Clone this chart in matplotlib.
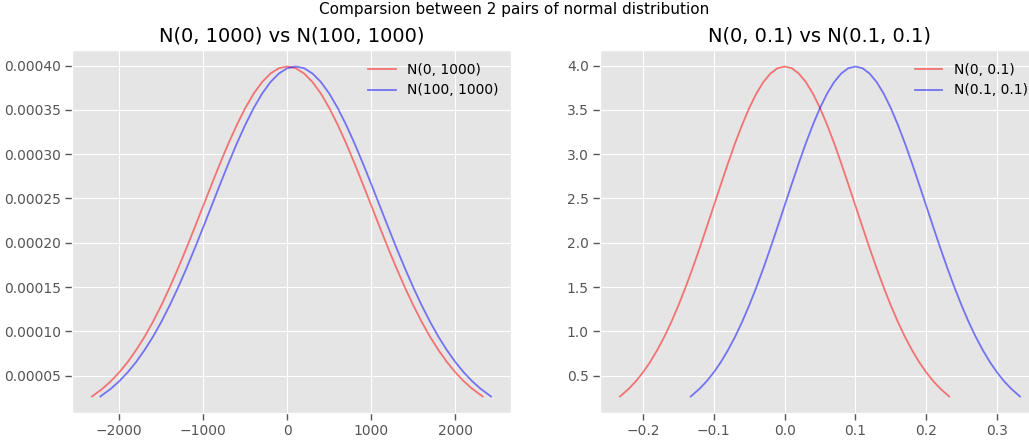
import matplotlib

matplotlib.use("Agg")
import matplotlib.pyplot as plt

x_n0_1000 = [-2326, -2200, -2100, -2000, -1900, -1800, -1700, -1600, -1500, -1400, -1300, -1200,
             -1100, -1000, -900, -800, -700, -600, -500, -400, -300, -200, -100, 0,
             100, 200, 300, 400, 500, 600, 700, 800, 900, 1000, 1100, 1200, 1300, 1400,
             1500, 1600, 1700, 1800, 1900, 2000, 2100, 2200, 2326]
x_n100_1000 = [-2226, -2100, -2000, -1900, -1800, -1700, -1600, -1500, -1400, -1300, -1200, -1100,
               -1000, -900, -800, -700, -600, -500, -400, -300, -200, -100, 0, 100,
               200, 300, 400, 500, 600, 700, 800, 900, 1000, 1100, 1200, 1300, 1400, 1500,
               1600, 1700, 1800, 1900, 2000, 2100, 2200, 2300, 2426]
y_left = [2.665e-5, 3.55e-5, 4.40e-5, 5.40e-5, 6.56e-5, 7.90e-5, 9.40e-5, 1.109e-4, 1.295e-4,
          1.497e-4, 1.714e-4, 1.942e-4, 2.179e-4, 2.420e-4, 2.661e-4, 2.897e-4, 3.123e-4,
          3.332e-4, 3.521e-4, 3.683e-4, 3.814e-4, 3.910e-4, 3.970e-4, 3.989e-4, 3.970e-4,
          3.910e-4, 3.814e-4, 3.683e-4, 3.521e-4, 3.332e-4, 3.123e-4, 2.897e-4, 2.661e-4,
          2.420e-4, 2.179e-4, 1.942e-4, 1.714e-4, 1.497e-4, 1.295e-4, 1.109e-4, 9.40e-5,
          7.90e-5, 6.56e-5, 5.40e-5, 4.40e-5, 3.55e-5, 2.665e-5]

x_n0_01 = [-0.2326, -0.22, -0.21, -0.20, -0.19, -0.18, -0.17, -0.16, -0.15, -0.14, -0.13, -0.12,
           -0.11, -0.10, -0.09, -0.08, -0.07, -0.06, -0.05, -0.04, -0.03, -0.02, -0.01, 0.0,
           0.01, 0.02, 0.03, 0.04, 0.05, 0.06, 0.07, 0.08, 0.09, 0.10, 0.11, 0.12, 0.13, 0.14,
           0.15, 0.16, 0.17, 0.18, 0.19, 0.20, 0.21, 0.22, 0.2326]
x_n01_01 = [-0.1326, -0.12, -0.11, -0.10, -0.09, -0.08, -0.07, -0.06, -0.05, -0.04, -0.03, -0.02,
            -0.01, 0.0, 0.01, 0.02, 0.03, 0.04, 0.05, 0.06, 0.07, 0.08, 0.09, 0.10,
            0.11, 0.12, 0.13, 0.14, 0.15, 0.16, 0.17, 0.18, 0.19, 0.20, 0.21, 0.22, 0.23, 0.24,
            0.25, 0.26, 0.27, 0.28, 0.29, 0.30, 0.31, 0.32, 0.3326]
y_right = [0.2665, 0.355, 0.440, 0.540, 0.656, 0.790, 0.940, 1.109, 1.295, 1.497, 1.714, 1.942,
           2.179, 2.420, 2.661, 2.897, 3.123, 3.332, 3.521, 3.683, 3.814, 3.910, 3.970, 3.989,
           3.970, 3.910, 3.814, 3.683, 3.521, 3.332, 3.123, 2.897, 2.661, 2.420, 2.179, 1.942,
           1.714, 1.497, 1.295, 1.109, 0.940, 0.790, 0.656, 0.540, 0.440, 0.355, 0.2665]

plt.style.use("ggplot")
W, H = 1029, 440
fig = plt.figure(figsize=(W / 100, H / 100), dpi=100)
fig.suptitle("Comparsion between 2 pairs of normal distribution", fontsize=11, y=0.995)

ax1 = fig.add_axes([72 / W, 27 / H, 439 / W, 363 / H])
ax1.plot(x_n0_1000, y_left, color="r", alpha=0.5, linewidth=1.3, label="N(0, 1000)")
ax1.plot(x_n100_1000, y_left, color="b", alpha=0.5, linewidth=1.3, label="N(100, 1000)")
ax1.set_title("N(0, 1000) vs N(100, 1000)", fontsize=14, color="black")
ax1.legend(frameon=False, loc="upper right", fontsize=10)

ax2 = fig.add_axes([600 / W, 27 / H, 440 / W, 363 / H])
ax2.plot(x_n0_01, y_right, color="r", alpha=0.5, linewidth=1.3, label="N(0, 0.1)")
ax2.plot(x_n01_01, y_right, color="b", alpha=0.5, linewidth=1.3, label="N(0.1, 0.1)")
ax2.set_title("N(0, 0.1) vs N(0.1, 0.1)", fontsize=14, color="black")
ax2.legend(frameon=False, loc="upper right", fontsize=10)

for ax in (ax1, ax2):
    ax.tick_params(which="major", direction="out", labelsize=10, length=5, width=1,
                   color="#555555", labelcolor="#555555", pad=3)
    for t in ax.xaxis.get_major_ticks() + ax.yaxis.get_major_ticks():
        t.tick1line.set_visible(True)
        t.tick1line.set_zorder(5)

fig.savefig("out.png", dpi=100)
